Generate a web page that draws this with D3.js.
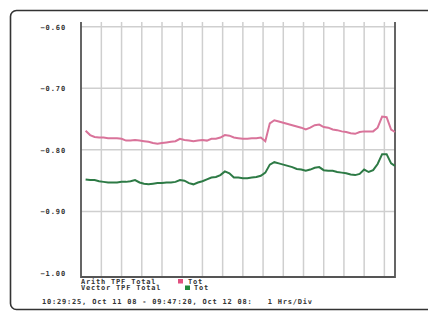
<!DOCTYPE html>
<html>
<head>
<meta charset="utf-8">
<script src="https://cdn.jsdelivr.net/npm/d3@7"></script>
<style>
  body { margin: 0; background: #fff; }
  text { font-family: "DejaVu Sans Mono", monospace; font-weight: bold; white-space: pre; }
</style>
</head>
<body>
<div id="chart"></div>
<script>
// sample times (20 min steps) and the two traces
const times = [
  "2008-10-11 10:50", "2008-10-11 11:10", "2008-10-11 11:30", "2008-10-11 11:50",
  "2008-10-11 12:10", "2008-10-11 12:30", "2008-10-11 12:50", "2008-10-11 13:10",
  "2008-10-11 13:30", "2008-10-11 13:50", "2008-10-11 14:10", "2008-10-11 14:30",
  "2008-10-11 14:50", "2008-10-11 15:10", "2008-10-11 15:30", "2008-10-11 15:50",
  "2008-10-11 16:10", "2008-10-11 16:30", "2008-10-11 16:50", "2008-10-11 17:10",
  "2008-10-11 17:30", "2008-10-11 17:50", "2008-10-11 18:10", "2008-10-11 18:30",
  "2008-10-11 18:50", "2008-10-11 19:10", "2008-10-11 19:30", "2008-10-11 19:50",
  "2008-10-11 20:10", "2008-10-11 20:30", "2008-10-11 20:50", "2008-10-11 21:10",
  "2008-10-11 21:30", "2008-10-11 21:50", "2008-10-11 22:10", "2008-10-11 22:30",
  "2008-10-11 22:50", "2008-10-11 23:10", "2008-10-11 23:30", "2008-10-11 23:50",
  "2008-10-12 00:10", "2008-10-12 00:30", "2008-10-12 00:50", "2008-10-12 01:10",
  "2008-10-12 01:30", "2008-10-12 01:50", "2008-10-12 02:10", "2008-10-12 02:30",
  "2008-10-12 02:50", "2008-10-12 03:10", "2008-10-12 03:30", "2008-10-12 03:50",
  "2008-10-12 04:10", "2008-10-12 04:30", "2008-10-12 04:50", "2008-10-12 05:10",
  "2008-10-12 05:30", "2008-10-12 05:50", "2008-10-12 06:10", "2008-10-12 06:30",
  "2008-10-12 06:50", "2008-10-12 07:10", "2008-10-12 07:30", "2008-10-12 07:50",
  "2008-10-12 08:10", "2008-10-12 08:30", "2008-10-12 08:50", "2008-10-12 09:10",
  "2008-10-12 09:30", "2008-10-12 09:47"
];

const arithTotal = [
  -0.769, -0.776, -0.779, -0.780, -0.780, -0.781, -0.781, -0.781,
  -0.782, -0.785, -0.785, -0.784, -0.785, -0.786, -0.787, -0.789,
  -0.790, -0.789, -0.788, -0.787, -0.786, -0.782, -0.784, -0.785,
  -0.786, -0.785, -0.784, -0.785, -0.782, -0.782, -0.780, -0.776,
  -0.777, -0.780, -0.781, -0.782, -0.782, -0.781, -0.781, -0.780,
  -0.786, -0.757, -0.752, -0.754, -0.756, -0.758, -0.760, -0.762,
  -0.764, -0.767, -0.764, -0.760, -0.759, -0.763, -0.764, -0.767,
  -0.768, -0.770, -0.771, -0.773, -0.774, -0.771, -0.770, -0.770,
  -0.770, -0.764, -0.746, -0.747, -0.767, -0.771
];

const vectorTotal = [
  -0.848, -0.849, -0.849, -0.851, -0.852, -0.853, -0.853, -0.853,
  -0.852, -0.852, -0.851, -0.849, -0.853, -0.855, -0.856, -0.855,
  -0.854, -0.854, -0.853, -0.853, -0.852, -0.849, -0.850, -0.854,
  -0.856, -0.853, -0.851, -0.848, -0.845, -0.844, -0.841, -0.835,
  -0.838, -0.845, -0.845, -0.846, -0.846, -0.845, -0.844, -0.842,
  -0.837, -0.824, -0.820, -0.822, -0.824, -0.826, -0.828, -0.831,
  -0.832, -0.834, -0.832, -0.829, -0.828, -0.833, -0.834, -0.834,
  -0.836, -0.837, -0.838, -0.840, -0.841, -0.839, -0.832, -0.836,
  -0.833, -0.823, -0.807, -0.807, -0.822, -0.826
];

const yTicks = [-0.60, -0.70, -0.80, -0.90, -1.00];
const startTime = "2008-10-11 10:29:25";
const endTime = "2008-10-12 09:47:20";
const legendRows = [
  { label: "Arith TPF Total", key: "Tot", color: "#e0507f" },
  { label: "Vector TPF Total", key: "Tot", color: "#1f8a3c" }
];
const footer = "10:29:25, Oct 11 08 - 09:47:20, Oct 12 08:   1 Hrs/Div";

const W = 428, H = 311;
const plot = { left: 81, right: 395, top: 22, bottom: 277 };

const parse = d3.timeParse("%Y-%m-%d %H:%M");
const parseSec = d3.timeParse("%Y-%m-%d %H:%M:%S");
const t0 = parseSec(startTime), t1 = parseSec(endTime);

const svg = d3.select("#chart").append("svg")
    .attr("width", W)
    .attr("height", H);

// outer rounded frame (runs off the right edge)
svg.append("rect")
    .attr("x", 10.5).attr("y", 10.5)
    .attr("width", 440).attr("height", 299)
    .attr("rx", 6)
    .attr("fill", "none")
    .attr("stroke", "#333")
    .attr("stroke-width", 1.6);

const x = d3.scaleTime().domain([t0, t1]).range([plot.left, plot.right]);
const y = d3.scaleLinear().domain([-1.0, -0.6]).range([273, 26.7]);

// vertical grid every 90 minutes
const gridTimes = d3.timeMinute.range(parse("2008-10-11 12:00"), t1, 90);
svg.append("g")
    .selectAll("line")
    .data(gridTimes)
    .enter()
    .append("line")
    .attr("x1", d => x(d)).attr("x2", d => x(d))
    .attr("y1", plot.top).attr("y2", plot.bottom)
    .attr("stroke", "#cfcfcf")
    .attr("stroke-width", 1.5);

// horizontal grid
svg.append("g")
    .selectAll("line")
    .data(yTicks.filter(d => d > -1.0))
    .enter()
    .append("line")
    .attr("x1", plot.left).attr("x2", plot.right)
    .attr("y1", d => y(d)).attr("y2", d => y(d))
    .attr("stroke", "#cfcfcf")
    .attr("stroke-width", 1.5);

// y labels
svg.append("g")
    .selectAll("text")
    .data(yTicks)
    .enter()
    .append("text")
    .attr("x", 66)
    .attr("y", d => y(d) + 3)
    .attr("text-anchor", "end")
    .style("font-size", "7px")
    .style("letter-spacing", "0.9px")
    .attr("fill", "#333")
    .text(d => d3.format(".2f")(d));

// plot frame: left, bottom, right
svg.append("path")
    .attr("d", `M${plot.left},${plot.top}V${plot.bottom}H${plot.right}V${plot.top}`)
    .attr("fill", "none")
    .attr("stroke", "#555")
    .attr("stroke-width", 1.8);

// traces
const line = d3.line()
    .x((d, i) => x(parse(times[i])))
    .y(d => y(d));

svg.append("path")
    .datum(arithTotal)
    .attr("d", line)
    .attr("fill", "none")
    .attr("stroke", "#d9739a")
    .attr("stroke-width", 2);

svg.append("path")
    .datum(vectorTotal)
    .attr("d", line)
    .attr("fill", "none")
    .attr("stroke", "#2d7a45")
    .attr("stroke-width", 2);

// legend
const legend = svg.append("g").style("font-size", "7px").style("letter-spacing", "0.8px");
legendRows.forEach((r, i) => {
    const ly = 283.5 + i * 6.5;
    legend.append("text")
        .attr("x", plot.left).attr("y", ly)
        .attr("fill", "#333")
        .text(r.label);
    legend.append("rect")
        .attr("x", 178 + i * 7).attr("y", ly - 4.5)
        .attr("width", 5).attr("height", 4.5)
        .attr("fill", r.color);
    legend.append("text")
        .attr("x", 188 + i * 6).attr("y", ly)
        .attr("fill", "#333")
        .text(r.key);
});

svg.append("text")
    .attr("x", 42).attr("y", 304)
    .style("font-size", "7px")
    .style("letter-spacing", "0.8px")
    .attr("fill", "#333")
    .text(footer);
</script>
</body>
</html>
